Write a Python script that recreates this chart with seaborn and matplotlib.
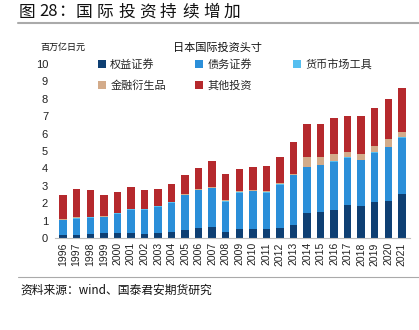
import matplotlib
matplotlib.use("Agg")
import matplotlib.pyplot as plt
import seaborn as sns
import pandas as pd
import numpy as np
from matplotlib.patches import Patch
from matplotlib.lines import Line2D

years = [str(y) for y in range(1996, 2022)]
equity = [0.15, 0.19, 0.23, 0.29, 0.29, 0.29, 0.25, 0.29, 0.36, 0.48, 0.59, 0.63, 0.34,
          0.54, 0.54, 0.50, 0.57, 0.73, 1.41, 1.51, 1.63, 1.87, 1.82, 2.08, 2.14, 2.52]
debt = [0.87, 0.93, 0.94, 0.90, 1.09, 1.34, 1.36, 1.50, 1.67, 1.98, 2.15, 2.24, 1.75,
        2.07, 2.15, 2.11, 2.48, 2.87, 2.65, 2.67, 2.74, 2.73, 2.66, 2.82, 3.07, 3.22]
money = [0.03] * 25 + [0.05]
deriv = [0.03] * 12 + [0.08, 0.06, 0.06, 0.06, 0.06, 0.06,
                       0.56, 0.47, 0.44, 0.34, 0.31, 0.33, 0.46, 0.33]
other = [1.41, 1.63, 1.54, 1.24, 1.20, 1.22, 1.10, 0.96, 1.03, 1.11, 1.23, 1.51, 1.49,
         1.24, 1.29, 1.41, 1.53, 1.82, 1.89, 1.86, 2.04, 2.03, 2.18, 2.20, 2.31, 2.52]

series_names = ["权益证券", "债务证券", "货币市场工具", "金融衍生品", "其他投资"]
series_vals = [equity, debt, money, deriv, other]
colors = ["#0E3F73", "#2B8FD9", "#56BFF0", "#D3AB8A", "#B5292D"]

sns.set_theme(style="white")
plt.rcParams['font.family'] = ['Noto Sans CJK SC', 'DejaVu Sans']

fig = plt.figure(figsize=(4.19, 3.30), dpi=100)
ax = fig.add_axes([55/419, 1-238/330, (410-55)/419, (238-64)/330])

bottom = np.zeros(len(years))
for name, vals, c in zip(series_names, series_vals, colors):
    df = pd.DataFrame({"year": years, "value": vals})
    sns.barplot(data=df, x="year", y="value", ax=ax, color=c, width=0.55,
                bottom=bottom, saturation=1, linewidth=0, errorbar=None)
    bottom = bottom + np.array(vals)

ax.set_ylim(0, 10)
ax.set_xlim(-0.6, len(years) - 0.4)
ax.set_yticks(range(0, 11))
ax.set_xlabel("")
ax.set_ylabel("")
ax.tick_params(axis='y', labelsize=8, pad=5, length=0, colors="#222222")
ax.tick_params(axis='x', labelsize=7.5, rotation=90, pad=3, length=0, colors="#222222")
for lab in ax.get_xticklabels() + ax.get_yticklabels():
    lab.set_family(['Liberation Sans', 'DejaVu Sans'])
for s in ["top", "right", "left"]:
    ax.spines[s].set_visible(False)
ax.spines["bottom"].set_color("#BFBFBF")
ax.spines["bottom"].set_linewidth(0.8)

# legend: three fixed-width columns, row-major order
col_x = [98, 195, 293]
col_items = [[0, 3], [1, 4], [2]]
for cx, items in zip(col_x, col_items):
    handles = [Patch(facecolor=colors[i], edgecolor='none') for i in items]
    labels = [series_names[i] for i in items]
    fig.legend(handles, labels, ncol=1, loc="upper left",
               bbox_to_anchor=(cx/419, 1-59/330), frameon=False, fontsize=8,
               handlelength=0.7, handleheight=0.7, handletextpad=0.4,
               labelspacing=0.95, borderaxespad=0, borderpad=0)

title_chars = [("图", 19), ("28", 39), ("：", 58), ("国", 76), ("际", 97), ("投", 118), ("资", 139),
               ("持", 160), ("续", 182), ("增", 203), ("加", 224)]
for ch, x in title_chars:
    fig.text(x/419, 1-12/330, ch, fontsize=12, va="center", ha="left", color="#111111")
fig.add_artist(Line2D([18/419, 1.0], [1-23/330, 1-23/330], color="#AAAAAA", linewidth=1.5))
fig.text(217/419, 1-48/330, "日本国际投资头寸", fontsize=8, va="center", ha="center", color="#111111")
fig.text(40/419, 1-47/330, "百万亿日元", fontsize=6.5, va="center", ha="left", color="#111111")
fig.add_artist(Line2D([18/419, 1.0], [1-277/330, 1-277/330], color="#AAAAAA", linewidth=0.8))
fig.text(20/419, 1-290/330, "资料来源：wind、国泰君安期货研究", fontsize=8.5, va="center", ha="left", color="#111111")

fig.savefig("out.png", dpi=100)
